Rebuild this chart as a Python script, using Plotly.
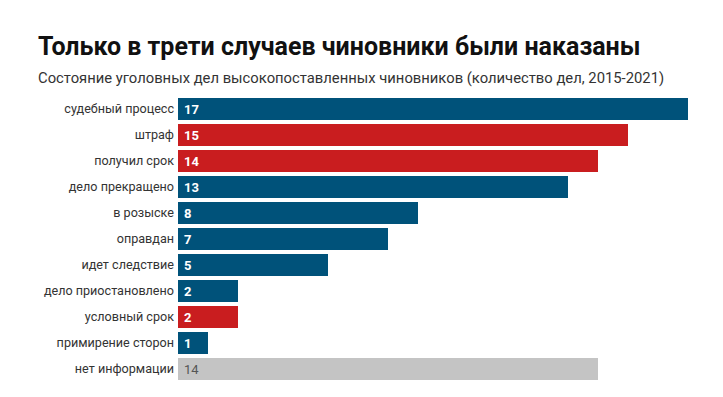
import plotly.graph_objects as go

categories = ["судебный процесс", "штраф", "получил срок", "дело прекращено", "в розыске",
              "оправдан", "идет следствие", "дело приостановлено", "условный срок",
              "примирение сторон", "нет информации"]
values = [17, 15, 14, 13, 8, 7, 5, 2, 2, 1, 14]
groups = ["other", "punished", "punished", "other", "other", "other", "other", "other",
          "punished", "other", "unknown"]

title = "Только в трети случаев чиновники были наказаны"
subtitle = "Состояние уголовных дел высокопоставленных чиновников (количество дел, 2015-2021)"

color_map = {"other": "#00527a", "punished": "#c91d1f", "unknown": "#c4c4c4"}
text_color_map = {"other": "#ffffff", "punished": "#ffffff", "unknown": "#555555"}

colors = [color_map[g] for g in groups]

fig = go.Figure()
fig.add_trace(go.Bar(
    x=values, y=categories, orientation="h",
    marker=dict(color=colors, line=dict(width=0)),
    hoverinfo="x+y",
))

for c, v, g in zip(categories, values, groups):
    txt = str(v) if g == "unknown" else "<b>%d</b>" % v
    fig.add_annotation(
        x=0, y=c, text=txt, showarrow=False, xanchor="left", xshift=4,
        font=dict(family="Roboto", size=13, color=text_color_map[g]),
    )

# page body has an 8px margin, so figure coords = page coords - 8
W, H = 707, 381
L, R, T, B = 170, 27, 88, 7
pw = W - L - R
ph = H - T - B

fig.add_annotation(
    xref="paper", yref="paper", x=(28 - L) / pw, y=1 + (T - 38) / ph,
    text="<b>" + title + "</b>", showarrow=False, xanchor="left", yanchor="middle",
    font=dict(family="Roboto", size=25, color="#111111"),
)
fig.add_annotation(
    xref="paper", yref="paper", x=(28 - L) / pw, y=1 + (T - 70.5) / ph,
    text=subtitle, showarrow=False, xanchor="left", yanchor="middle",
    font=dict(family="Roboto", size=14.8, color="#333333"),
)

fig.update_layout(
    width=W, height=H,
    margin=dict(l=L, r=R, t=T, b=B),
    paper_bgcolor="white", plot_bgcolor="white",
    showlegend=False,
    bargap=0.154,
    font=dict(family="Roboto", size=13, color="#333333"),
    xaxis=dict(range=[0, 17], visible=False, fixedrange=True, automargin=False),
    yaxis=dict(autorange="reversed", showgrid=False, zeroline=False, showline=False,
               ticks="", ticklabelstandoff=3, automargin=False,
               tickfont=dict(family="Roboto", size=12.6, color="#333333"),
               fixedrange=True),
)

fig.write_html("out.html")
